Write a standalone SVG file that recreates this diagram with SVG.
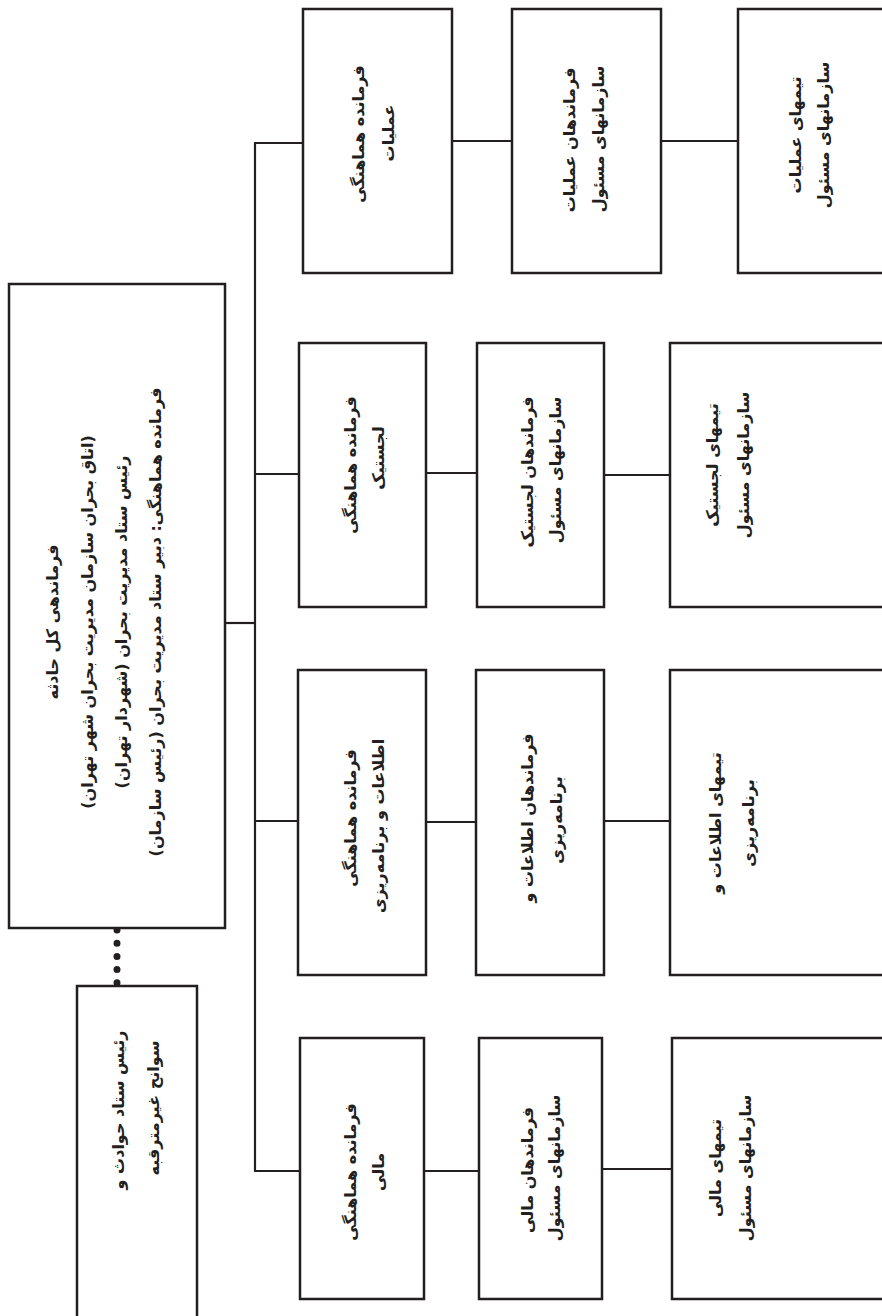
<svg xmlns="http://www.w3.org/2000/svg" width="882" height="1316" viewBox="0 0 882 1316">
<style>
.box{fill:#fff;stroke:#231f20;stroke-width:2.5}
.ln{stroke:#231f20;stroke-width:2.2;fill:none}
.t{font-family:"DejaVu Sans",sans-serif;font-weight:bold;font-size:16px;fill:#231f20;text-anchor:middle;dominant-baseline:central;direction:rtl}
</style>
<rect width="882" height="1316" fill="#fff"/>
<g id="connectors">
<line class="ln" x1="225" y1="623" x2="255" y2="623"/>
<line class="ln" x1="255" y1="143" x2="255" y2="1171"/>
<line class="ln" x1="254" y1="143" x2="303" y2="143"/>
<line class="ln" x1="254" y1="474" x2="300" y2="474"/>
<line class="ln" x1="254" y1="821" x2="298" y2="821"/>
<line class="ln" x1="254" y1="1171" x2="300" y2="1171"/>
<line class="ln" x1="452" y1="141" x2="512" y2="141"/>
<line class="ln" x1="661" y1="141" x2="738" y2="141"/>
<line class="ln" x1="426" y1="473" x2="477" y2="473"/>
<line class="ln" x1="604" y1="475" x2="670" y2="475"/>
<line class="ln" x1="426" y1="822" x2="476" y2="822"/>
<line class="ln" x1="604" y1="821" x2="670" y2="821"/>
<line class="ln" x1="424" y1="1171" x2="479" y2="1171"/>
<line class="ln" x1="602" y1="1169" x2="672" y2="1169"/>
<line x1="117" y1="930" x2="117" y2="983" stroke="#231f20" stroke-width="7" stroke-linecap="round" stroke-dasharray="0 13.2"/>
</g>
<g id="main">
<rect class="box" x="9" y="284" width="216" height="644"/>
<text class="t" transform="translate(52,622) rotate(-90)">فرماندهی کل حادثه</text>
<text class="t" transform="translate(87,622) rotate(-90)">(اتاق بحران سازمان مدیریت بحران شهر تهران)</text>
<text class="t" transform="translate(121,622) rotate(-90)">رئیس ستاد مدیریت بحران (شهردار تهران)</text>
<text class="t" transform="translate(155,622) rotate(-90)">فرمانده هماهنگی: دبیر ستاد مدیریت بحران (رئیس سازمان)</text>
</g>
<g id="staff">
<rect class="box" x="77" y="986" width="120" height="345"/>
<text class="t" transform="translate(118,1110) rotate(-90)">رئیس ستاد حوادث و</text>
<text class="t" transform="translate(153,1108) rotate(-90)">سوانح غیرمترقبه</text>
</g>
<g id="ops-coord">
<rect class="box" x="303" y="9" width="149" height="264"/>
<text class="t" transform="translate(358,134) rotate(-90)">فرمانده هماهنگی</text>
<text class="t" transform="translate(388,133) rotate(-90)">عملیات</text>
</g>
<g id="ops-cmd">
<rect class="box" x="512" y="9" width="149" height="264"/>
<text class="t" transform="translate(569,140) rotate(-90)">فرماندهان عملیات</text>
<text class="t" transform="translate(598,139) rotate(-90)">سازمانهای مسئول</text>
</g>
<g id="ops-team">
<rect class="box" x="738" y="9" width="160" height="264"/>
<text class="t" transform="translate(795,135) rotate(-90)">تیمهای عملیات</text>
<text class="t" transform="translate(823,135) rotate(-90)">سازمانهای مسئول</text>
</g>
<g id="log-coord">
<rect class="box" x="299" y="343" width="127" height="264"/>
<text class="t" transform="translate(350,465) rotate(-90)">فرمانده هماهنگی</text>
<text class="t" transform="translate(378,458) rotate(-90)">لجستیک</text>
</g>
<g id="log-cmd">
<rect class="box" x="477" y="343" width="127" height="264"/>
<text class="t" transform="translate(527,472) rotate(-90)">فرماندهان لجستیک</text>
<text class="t" transform="translate(555,470) rotate(-90)">سازمانهای مسئول</text>
</g>
<g id="log-team">
<rect class="box" x="670" y="343" width="228" height="264"/>
<text class="t" transform="translate(712,465) rotate(-90)">تیمهای لجستیک</text>
<text class="t" transform="translate(743,465) rotate(-90)">سازمانهای مسئول</text>
</g>
<g id="plan-coord">
<rect class="box" x="298" y="670" width="128" height="305"/>
<text class="t" transform="translate(350,818) rotate(-90)">فرمانده هماهنگی</text>
<text class="t" transform="translate(378,826) rotate(-90)">اطلاعات و برنامه‌ریزی</text>
</g>
<g id="plan-cmd">
<rect class="box" x="476" y="670" width="128" height="305"/>
<text class="t" transform="translate(527,818) rotate(-90)">فرماندهان اطلاعات و</text>
<text class="t" transform="translate(556,820) rotate(-90)">برنامه‌ریزی</text>
</g>
<g id="plan-team">
<rect class="box" x="670" y="670" width="228" height="305"/>
<text class="t" transform="translate(715,823) rotate(-90)">تیمهای اطلاعات و</text>
<text class="t" transform="translate(748,823) rotate(-90)">برنامه‌ریزی</text>
</g>
<g id="fin-coord">
<rect class="box" x="300" y="1038" width="124" height="261"/>
<text class="t" transform="translate(350,1172) rotate(-90)">فرمانده هماهنگی</text>
<text class="t" transform="translate(378,1172) rotate(-90)">مالی</text>
</g>
<g id="fin-cmd">
<rect class="box" x="479" y="1038" width="123" height="261"/>
<text class="t" transform="translate(527,1170) rotate(-90)">فرماندهان مالی</text>
<text class="t" transform="translate(554,1168) rotate(-90)">سازمانهای مسئول</text>
</g>
<g id="fin-team">
<rect class="box" x="672" y="1038" width="226" height="261"/>
<text class="t" transform="translate(715,1168) rotate(-90)">تیمهای مالی</text>
<text class="t" transform="translate(745,1168) rotate(-90)">سازمانهای مسئول</text>
</g>
</svg>
